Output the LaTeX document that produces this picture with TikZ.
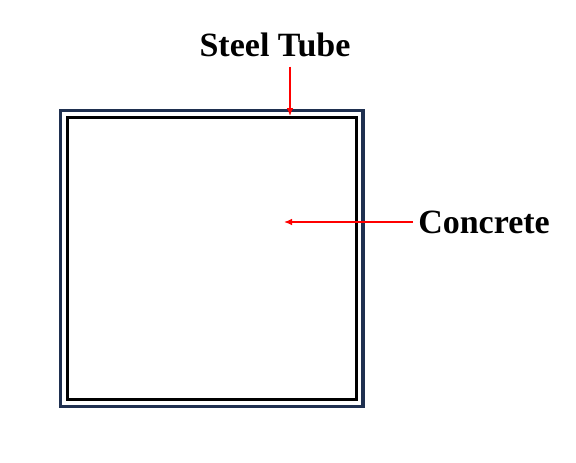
\documentclass[tikz,border=0pt]{standalone}
\usepackage{fontspec}
\setmainfont{Liberation Serif}
\usepackage{xcolor}
\usepackage{tikz}
\usetikzlibrary{arrows.meta,positioning}
\definecolor{TubeNavy}{HTML}{1F3050}
\definecolor{PointerRed}{HTML}{FF0000}

\begin{document}
\begin{tikzpicture}[
	x=0.75pt, y=-0.75pt,
	outerwall/.style={draw=TubeNavy, line width=2.3pt},
	innerwall/.style={draw=black, line width=2.3pt},
	label/.style={font=\fontsize{25.5}{30}\selectfont\bfseries, inner sep=0pt},
	pointer/.style={-{Latex[length=6pt,width=5pt]}, draw=PointerRed, line width=1pt}
]
\useasboundingbox (0,0) rectangle (576,462);

% tube walls
\draw[outerwall] (60.5,110.5) rectangle (363,406.5);
\draw[innerwall] (67.5,117.5) rectangle (356.5,399.5);

% labels
\node[label, anchor=base, inner ysep=7.5pt] (steel) at (275,56) {Steel Tube};
\node[label, anchor=west, inner xsep=3.75pt] (concrete) at (413,222) {Concrete};

\coordinate (tubetop) at (290,116);
\coordinate (core) at (284,222);

\draw[pointer] (tubetop |- steel.south) -- (tubetop);
\draw[pointer] (concrete.west) -- (core);
\end{tikzpicture}
\end{document}
